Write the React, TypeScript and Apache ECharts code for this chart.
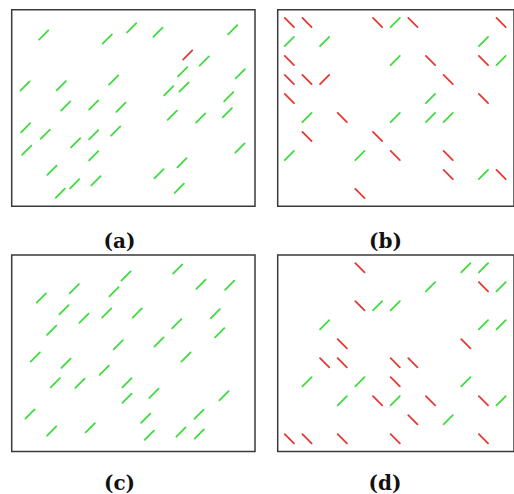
import React, { useEffect, useRef } from "react";
import * as echarts from "echarts";

// Panel (a): free positions inside panel box (x from left, y from top); green rising segments
const panelAGreen: number[][] = [
  [32, 25.3], [95.6, 29.3], [120, 18], [146.3, 22.6], [221, 20],
  [192.6, 51.3], [171, 62], [228.6, 64], [13.3, 76.3], [49.6, 76],
  [102, 70.3], [157, 81], [172.3, 77.3], [217, 87], [54, 96.3],
  [82, 95.3], [109.3, 97.6], [160.6, 105.6], [189, 108.3], [215.6, 103],
  [14, 118], [33.6, 124.6], [64, 133], [82, 125], [104, 121.3],
  [15, 140.6], [82, 146], [228.3, 138.3], [40.3, 160.6], [170.3, 153],
  [147.3, 164], [63, 174], [48.6, 183.6], [84.3, 171], [167.6, 178.6],
];
const panelARedRising: number[][] = [[176, 45.3]];

// Panel (c): green rising segments
const panelCGreen: number[][] = [
  [166, 14], [114.3, 21], [189.3, 29.3], [218, 30.3], [62.6, 33.7],
  [29.6, 43], [102.3, 36.7], [52.3, 54.7], [95, 58], [125.6, 58],
  [72.3, 63.3], [203.6, 58.7], [165, 68.7], [40, 75.3], [208, 77.7],
  [106.6, 89.7], [147.3, 87], [23.6, 102], [174.3, 102], [54.3, 108.3],
  [92.6, 115.3], [43.6, 127.7], [68.3, 128.3], [115.3, 127.7], [115.3, 143.3],
  [142.3, 138.3], [212.3, 140.7], [18.3, 159], [134, 163.3], [187.3, 159.3],
  [40, 176], [78.6, 172.7], [137.6, 180.3], [169.3, 177], [187.6, 179],
];

// Panels (b) and (d): lattice [column, row, kind]; g = green rising, r = red falling, R = red rising
const panelBCells: [number, number, string][] = [
  [0, 0, "r"], [1, 0, "r"], [5, 0, "r"], [6, 0, "g"], [7, 0, "r"], [12, 0, "r"],
  [0, 1, "g"], [2, 1, "g"], [11, 1, "g"],
  [0, 2, "r"], [6, 2, "g"], [8, 2, "r"], [11, 2, "r"], [12, 2, "g"],
  [0, 3, "r"], [1, 3, "r"], [2, 3, "R"], [9, 3, "r"],
  [0, 4, "r"], [8, 4, "g"], [11, 4, "r"],
  [1, 5, "g"], [3, 5, "r"], [6, 5, "g"], [8, 5, "g"], [9, 5, "g"],
  [1, 6, "r"], [5, 6, "r"],
  [0, 7, "g"], [4, 7, "g"], [6, 7, "r"], [9, 7, "r"],
  [9, 8, "r"], [11, 8, "g"], [12, 8, "r"],
  [4, 9, "r"],
];
const panelDCells: [number, number, string][] = [
  [4, 0, "r"], [10, 0, "g"], [11, 0, "g"],
  [8, 1, "g"], [11, 1, "r"], [12, 1, "g"],
  [4, 2, "r"], [5, 2, "g"], [6, 2, "g"],
  [2, 3, "g"], [11, 3, "g"], [12, 3, "g"],
  [3, 4, "r"], [10, 4, "r"],
  [2, 5, "r"], [3, 5, "r"], [6, 5, "r"], [7, 5, "r"],
  [1, 6, "g"], [4, 6, "g"], [6, 6, "r"], [10, 6, "g"],
  [3, 7, "g"], [5, 7, "r"], [6, 7, "g"], [8, 7, "r"], [11, 7, "r"], [12, 7, "g"],
  [7, 8, "r"], [9, 8, "g"],
  [0, 9, "r"], [1, 9, "r"], [3, 9, "r"], [6, 9, "r"], [11, 9, "r"],
];

const panelLabels = ["(a)", "(b)", "(c)", "(d)"];

const GREEN = "#3fdc3f";
const RED = "#e43a36";

function toData(points: number[][], up: number, red: number) {
  return points.map((p) => [p[0], p[1], up, red]);
}
function cellsToData(cells: [number, number, string][]) {
  return cells.map(([c, r, k]) => [c, r, k === "r" ? 0 : 1, k === "g" ? 0 : 1]);
}

export default function App() {
  const ref = useRef<HTMLDivElement>(null);
  useEffect(() => {
    if (!ref.current) return;
    const chart = echarts.init(ref.current, undefined, { renderer: "svg" });
    const renderItem = (params: any, api: any) => {
      const p = api.coord([api.value(0), api.value(1)]);
      const up = api.value(2) === 1;
      const color = api.value(3) === 1 ? RED : GREEN;
      const h = 4.6;
      return {
        type: "line",
        shape: {
          x1: p[0] - h,
          y1: p[1] + (up ? h : -h),
          x2: p[0] + h,
          y2: p[1] + (up ? -h : h),
        },
        style: { stroke: color, lineWidth: 1.8, lineCap: "round" },
      };
    };
    const boxes = [
      { left: 11.7, top: 9.7 },
      { left: 277.7, top: 9.7 },
      { left: 11.7, top: 255 },
      { left: 277.7, top: 255 },
    ];
    const W = 243.3;
    const H = 196.5;
    const grid = boxes.map((b) => ({
      left: b.left,
      top: b.top,
      width: W,
      height: H,
      show: true,
      borderColor: "#3a3a3a",
      borderWidth: 1.5,
      backgroundColor: "#fff",
      containLabel: false,
    }));
    const freeX = { type: "value", min: 0, max: W, show: false };
    const freeY = { type: "value", min: 0, max: H, show: false, inverse: true };
    const latX = { type: "value", min: -0.66, max: 12.73, show: false };
    const latY = { type: "value", min: -0.67, max: 9.67, show: false, inverse: true };
    const xAxis = [0, 1, 2, 3].map((i) => ({ ...(i % 2 === 0 ? freeX : latX), gridIndex: i }));
    const yAxis = [0, 1, 2, 3].map((i) => ({ ...(i % 2 === 0 ? freeY : latY), gridIndex: i }));
    const datasets = [
      [...toData(panelAGreen, 1, 0), ...toData(panelARedRising, 1, 1)],
      cellsToData(panelBCells),
      toData(panelCGreen, 1, 0),
      cellsToData(panelDCells),
    ];
    const series = datasets.map((d, i) => ({
      type: "custom",
      xAxisIndex: i,
      yAxisIndex: i,
      renderItem,
      clip: true,
      data: d,
    }));
    const labelPos = [
      [119.5, 240.5],
      [385.5, 240.5],
      [119.5, 483],
      [385, 483],
    ];
    chart.setOption({
      animation: false,
      backgroundColor: "#fff",
      grid,
      xAxis,
      yAxis,
      series,
      graphic: panelLabels.map((t, i) => ({
        type: "text",
        x: labelPos[i][0],
        y: labelPos[i][1],
        style: {
          text: t,
          fontFamily: "DejaVu Serif",
          fontWeight: "bold",
          fontSize: 20,
          fill: "#111",
          align: "center",
          verticalAlign: "middle",
        },
      })),
    });
    return () => chart.dispose();
  }, []);
  return (
    <div
      ref={ref}
      style={{ position: "absolute", left: 0, top: 0, width: 514, height: 494 }}
    />
  );
}
